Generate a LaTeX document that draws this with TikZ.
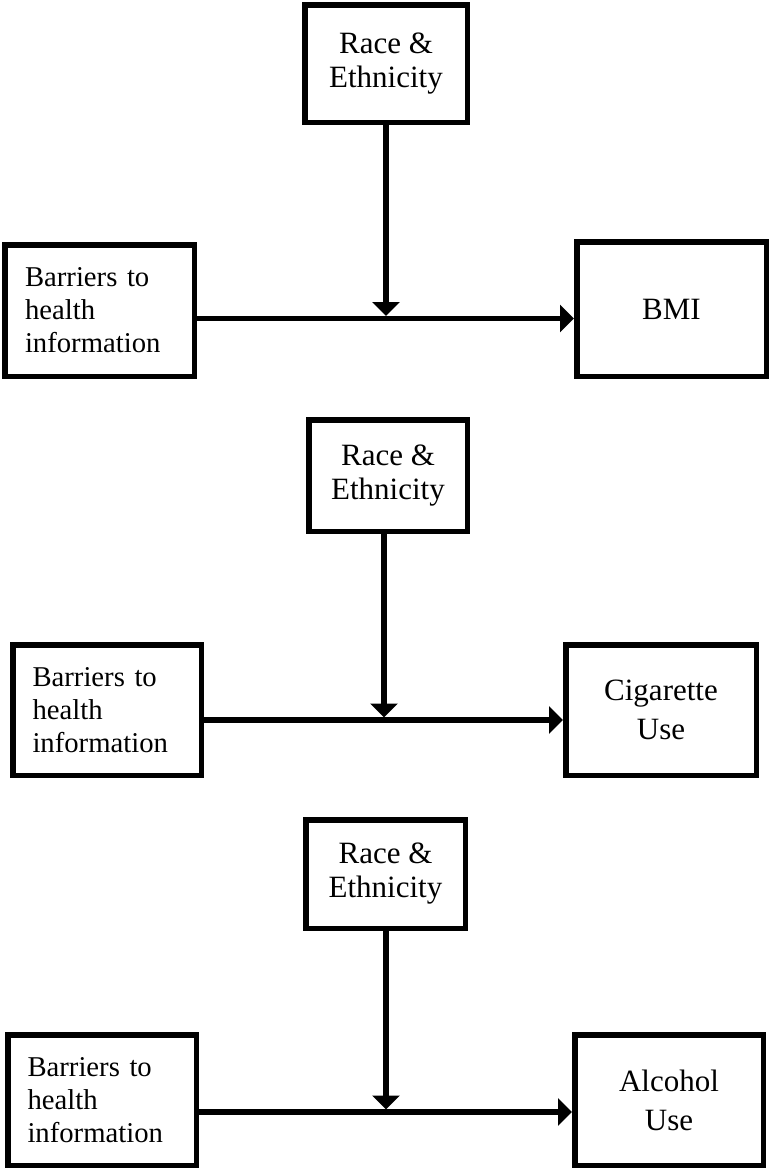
\documentclass[tikz,border=0pt]{standalone}
\usepackage{fontspec}
\setmainfont{Liberation Serif}
\usetikzlibrary{arrows.meta}
\begin{document}
\begin{tikzpicture}[x=1pt,y=-1pt,
  box/.style={draw=black,line width=5.5pt,rectangle,inner sep=0pt,align=center},
  racebox/.style={box,font=\fontsize{31}{34}\selectfont},
  barbox/.style={box,align=left,text width=149pt,font=\fontsize{28.7}{33}\selectfont},
  outbox/.style={box,font=\fontsize{31}{39}\selectfont},
  conn/.style={line width=5.5pt,-{Triangle[length=14pt,width=27pt]}}]
\useasboundingbox[fill=white] (0,0) rectangle (770,1170);

% Panel 1
\node[racebox,minimum width=162.5pt,minimum height=117.5pt] (R1) at (386,63.5) {Race \&\\Ethnicity};
\node[barbox,minimum width=189.5pt,minimum height=131.5pt] (B1) at (99.5,310.5) {Barriers to\\health\\information};
\node[outbox,minimum width=189.5pt,minimum height=134.5pt] (O1) at (671.5,309) {BMI};
\coordinate (m1) at (386,318.5);
\coordinate (t1) at (386,316);
\draw[conn] (B1.east |- m1) -- (O1.west |- m1);
\draw[conn] (R1.south -| m1) -- (t1);

% Panel 2
\node[racebox,minimum width=158.5pt,minimum height=111.5pt] (R2) at (388,475.5) {Race \&\\Ethnicity};
\node[barbox,minimum width=188.5pt,minimum height=130.5pt] (B2) at (107,710) {Barriers to\\health\\information};
\node[outbox,minimum width=190.5pt,minimum height=130.5pt] (O2) at (661,710) {Cigarette\\Use};
\coordinate (m2) at (384,720);
\coordinate (t2) at (384,717.5);
\draw[conn] (B2.east |- m2) -- (O2.west |- m2);
\draw[conn] (R2.south -| m2) -- (t2);

% Panel 3
\node[racebox,minimum width=159.5pt,minimum height=108.5pt] (R3) at (385.5,874) {Race \&\\Ethnicity};
\node[barbox,minimum width=188.5pt,minimum height=130.5pt] (B3) at (102,1100) {Barriers to\\health\\information};
\node[outbox,minimum width=188.5pt,minimum height=130.5pt] (O3) at (669,1100) {Alcohol\\Use};
\coordinate (m3) at (386,1112);
\coordinate (t3) at (386,1109.5);
\draw[conn] (B3.east |- m3) -- (O3.west |- m3);
\draw[conn] (R3.south -| m3) -- (t3);
\end{tikzpicture}
\end{document}
